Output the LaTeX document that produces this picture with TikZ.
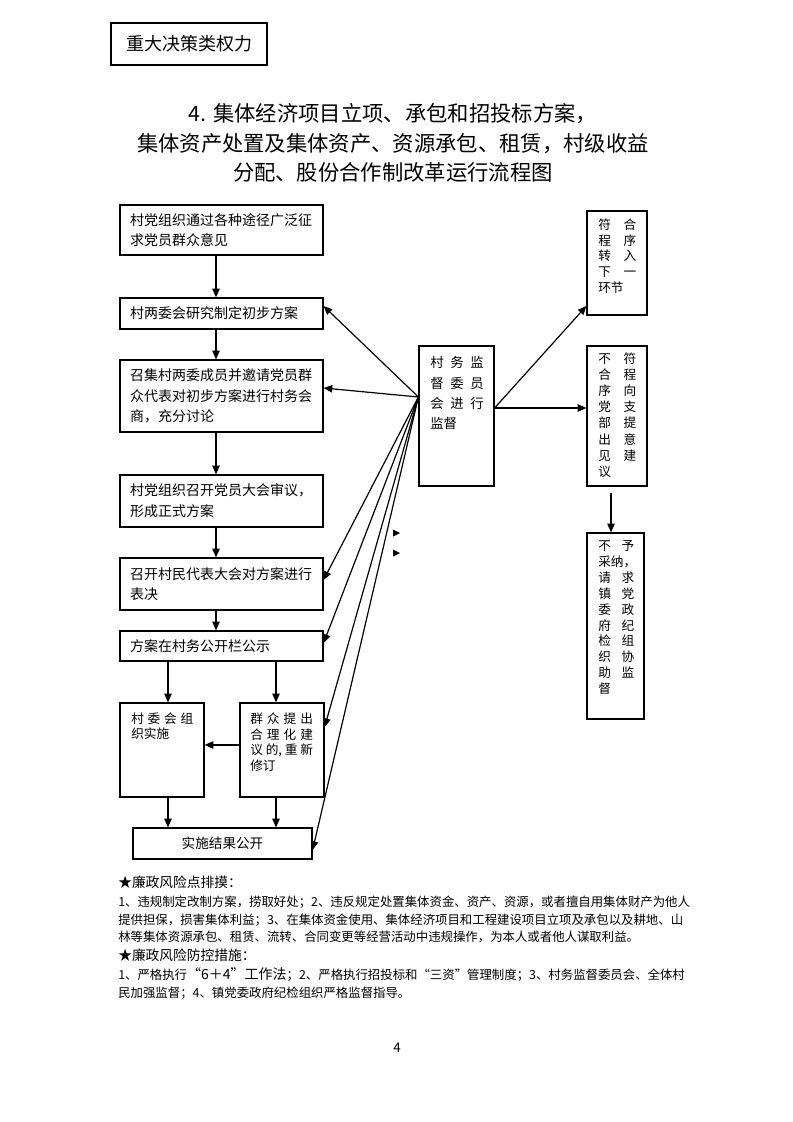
\documentclass[tikz,border=0pt]{standalone}
\usepackage{fontspec}
\setmainfont{Noto Sans CJK SC}
\usetikzlibrary{arrows.meta}
\setlength{\parindent}{0pt}

\tikzset{
  box/.style={draw, line width=0.9pt, inner sep=0pt},
  para/.style={box, align=left, inner xsep=7.6pt, text width=137pt,
    font=\fontsize{10.5pt}{15.5pt}\selectfont},
  lbl/.style={inner sep=0pt, anchor=north west, align=left},
  arr/.style={-{Triangle[length=6.5pt,width=5.5pt]}, line width=0.9pt},
  note/.style={inner sep=0pt, anchor=west, font=\fontsize{9.3pt}{12pt}\selectfont},
  head/.style={note, font=\fontsize{10.3pt}{12pt}\selectfont},
}

\begin{document}
\begin{tikzpicture}[x=0.75pt, y=-0.75pt]
  \useasboundingbox (0,0) rectangle (793,1122);

  % Heading
  \node[box, minimum width=117pt, minimum height=31.5pt,
    font=\fontsize{13.5pt}{16pt}\selectfont] (kind) at (189,44) {重大决策类权力};
  \node[align=center, font=\fontsize{16pt}{22.1pt}\selectfont] (title) at (393,143)
  {4. 集体经济项目立项、承包和招投标方案，\\
   集体资产处置及集体资产、资源承包、租赁，村级收益\\
   分配、股份合作制改革运行流程图};

  % Main column
  \node[para, minimum height=37.5pt] (solicit) at (221.5,230)
  {村党组织通过各种途径广泛征\\求党员群众意见};
  \node[para, minimum height=23.25pt] (draft) at (221.5,313.5)
  {村两委会研究制定初步方案};
  \node[para, minimum height=54pt] (consult) at (221.5,396)
  {召集村两委成员并邀请党员群\\众代表对初步方案进行村务会\\商，充分讨论};
  \node[para, minimum height=39pt] (review) at (221.5,501)
  {村党组织召开党员大会审议，\\形成正式方案};
  \node[para, minimum height=39pt] (vote) at (221.5,584)
  {召开村民代表大会对方案进行\\表决};
  \node[para, minimum height=22.5pt] (publish) at (221.5,646)
  {方案在村务公开栏公示};

  \node[box, minimum width=63pt, minimum height=70.5pt] (implement) at (162,750) {};
  \node[lbl, text width=50pt, font=\fontsize{9.5pt}{11.3pt}\selectfont]
    (implement-txt) at (131,712.5)
  {\makebox[46.5pt][s]{村\hfill 委\hfill 会\hfill 组}\\织实施};
  \node[box, minimum width=63pt, minimum height=70.5pt] (revise) at (282,750) {};
  \node[lbl, text width=50pt, font=\fontsize{9.5pt}{11.8pt}\selectfont]
    (revise-txt) at (250,712.5)
  {\makebox[47pt][s]{群\hfill 众\hfill 提\hfill 出}\\
   \makebox[47pt][s]{合\hfill 理\hfill 化\hfill 建}\\
   \makebox[47pt][s]{议\hfill 的,\hfill 重\hfill 新}\\修订};

  \node[box, minimum width=134.25pt, minimum height=23.25pt,
    font=\fontsize{10.2pt}{12pt}\selectfont] (result) at (222.5,843.5) {实施结果公开};

  % Supervision
  \node[box, minimum width=56.25pt, minimum height=105pt] (supervise) at (456.5,416) {};
  \node[lbl, text width=44pt, font=\fontsize{10pt}{15.2pt}\selectfont]
    (supervise-txt) at (430,356.5)
  {\makebox[40pt][s]{村\hfill 务\hfill 监}\\
   \makebox[40pt][s]{督\hfill 委\hfill 员}\\
   \makebox[40pt][s]{会\hfill 进\hfill 行}\\监督};

  \node[box, minimum width=45pt, minimum height=78pt] (pass) at (617,263) {};
  \node[lbl, text width=32pt, font=\fontsize{9.5pt}{11.8pt}\selectfont]
    (pass-txt) at (598,218.5)
  {\makebox[28.5pt][s]{符\hfill 合}\\
   \makebox[28.5pt][s]{程\hfill 序}\\
   \makebox[28.5pt][s]{转\hfill 入}\\
   \makebox[28.5pt][s]{下\hfill 一}\\环节};

  \node[box, minimum width=45pt, minimum height=105pt] (fail) at (617,416) {};
  \node[lbl, text width=32pt, font=\fontsize{9.5pt}{12.1pt}\selectfont]
    (fail-txt) at (598,352.5)
  {\makebox[28.5pt][s]{不\hfill 符}\\
   \makebox[28.5pt][s]{合\hfill 程}\\
   \makebox[28.5pt][s]{序\hfill 向}\\
   \makebox[28.5pt][s]{党\hfill 支}\\
   \makebox[28.5pt][s]{部\hfill 提}\\
   \makebox[28.5pt][s]{出\hfill 意}\\
   \makebox[28.5pt][s]{见\hfill 建}\\议};

  \node[box, minimum width=42.75pt, minimum height=139.5pt] (report) at (615.5,626) {};
  \node[lbl, text width=32pt, font=\fontsize{9.5pt}{11.9pt}\selectfont]
    (report-txt) at (598,540.5)
  {\makebox[27pt][s]{不\hfill 予}\\
   采纳，\\
   \makebox[27pt][s]{请\hfill 求}\\
   \makebox[27pt][s]{镇\hfill 党}\\
   \makebox[27pt][s]{委\hfill 政}\\
   \makebox[27pt][s]{府\hfill 纪}\\
   \makebox[27pt][s]{检\hfill 组}\\
   \makebox[27pt][s]{织\hfill 协}\\
   \makebox[27pt][s]{助\hfill 监}\\督};

  % Flow
  \draw[arr] (solicit.south -| 216,0) -- (draft.north -| 216,0);
  \draw[arr] (draft.south -| 216,0)   -- (consult.north -| 216,0);
  \draw[arr] (consult.south -| 216,0) -- (review.north -| 216,0);
  \draw[arr] (review.south -| 216,0)  -- (vote.north -| 216,0);
  \draw[arr] (vote.south -| 216,0)    -- (publish.north -| 216,0);
  \draw[arr] (publish.south -| 168,0) -- (implement.north -| 168,0);
  \draw[arr] (publish.south -| 276,0) -- (revise.north -| 276,0);
  \draw[arr] (revise.west |- 0,745)   -- (implement.east |- 0,745);
  \draw[arr] (implement.south -| 168,0) -- (result.north -| 168,0);
  \draw[arr] (revise.south -| 276,0)  -- (result.north -| 276,0);

  % Supervision links
  \coordinate (fan) at (supervise.west |- 0,397);
  \coordinate (out) at (supervise.east |- 0,408);
  \foreach \t/\y in {draft/306, consult/388, vote/580, publish/643, revise/727, result/850}
    \draw[arr] (fan) -- (\t.east |- 0,\y);
  \draw[arr] (out) -- (pass.west |- 0,306);
  \draw[arr] (out) -- (fail.west |- 0,408);
  \draw[arr, shorten <=4.5pt] (fail.south -| 611,0) -- (report.north -| 611,0);

  % Stray tips
  \fill (393,529.5) -- (400,533) -- (393,536.5) -- cycle;
  \fill (393,549.5) -- (400,553) -- (393,556.5) -- cycle;

  % Notes
  \node[head] (risk) at (118,882) {★廉政风险点排摸：};
  \node[note] (risk-1) at (118,902)
  {1、违规制定改制方案，捞取好处；2、违反规定处置集体资金、资产、资源，或者擅自用集体财产为他人};
  \node[note] (risk-2) at (118,920)
  {提供担保，损害集体利益；3、在集体资金使用、集体经济项目和工程建设项目立项及承包以及耕地、山};
  \node[note] (risk-3) at (118,937)
  {林等集体资源承包、租赁、流转、合同变更等经营活动中违规操作，为本人或者他人谋取利益。};
  \node[head] (guard) at (118,955) {★廉政风险防控措施：};
  \node[note] (guard-1) at (118,975)
  {1、严格执行{\fontsize{10.5pt}{12pt}\selectfont “6＋4”工作法}；2、严格执行招投标和“三资”管理制度；3、村务监督委员会、全体村};
  \node[note] (guard-2) at (118,993)
  {民加强监督；4、镇党委政府纪检组织严格监督指导。};

  \node[font=\fontsize{10pt}{12pt}\selectfont] (page) at (397,1048) {4};

\end{tikzpicture}
\end{document}
